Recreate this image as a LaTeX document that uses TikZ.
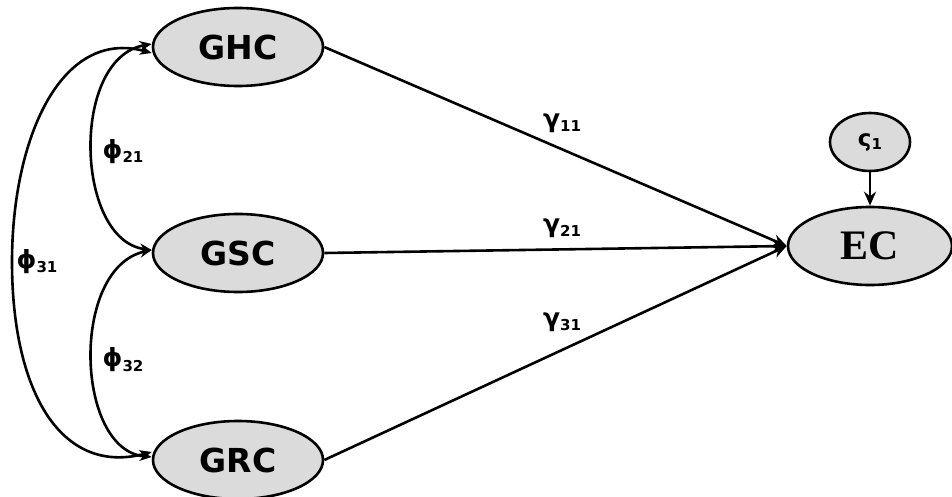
\documentclass[tikz,border=0pt]{standalone}
\usepackage{fontspec}
\setmainfont{DejaVu Sans}
\newfontfamily\ecfont{Liberation Serif}
\usetikzlibrary{arrows.meta,shapes.geometric}

\tikzset{
  latent/.style={ellipse, draw=black, line width=2.6pt, fill=black!14,
    inner sep=0pt, minimum width=170pt, minimum height=78pt,
    font=\fontsize{33}{33}\selectfont\bfseries},
  errnode/.style={ellipse, draw=black, line width=2.6pt, fill=black!14,
    inner sep=0pt, minimum width=80pt, minimum height=58pt,
    font=\fontsize{23}{23}\selectfont\bfseries},
  path/.style={line width=2.6pt, -{Stealth[length=14pt,width=12pt]}},
  cov/.style={line width=2.6pt, {Stealth[length=12pt,width=10pt]}-{Stealth[length=12pt,width=10pt]}},
  coef/.style={font=\fontsize{25}{25}\selectfont\bfseries, inner sep=1pt}
}

\newcommand{\sbs}[1]{\raisebox{-0.3ex}{\fontsize{15}{15}\selectfont\bfseries #1}}

\begin{document}
\begin{tikzpicture}[x=1pt,y=-1pt]
\useasboundingbox (0,0) rectangle (952,497);

% exogenous constructs
\node[latent] (GHC) at (238,47) {GHC};
\node[latent] (GSC) at (238,253) {GSC};
\node[latent] (GRC) at (238,460) {GRC};

% endogenous construct and its disturbance
\node[latent, minimum width=164pt, font=\fontsize{42}{42}\selectfont\bfseries\ecfont] (EC) at (870,246) {EC};
\node[errnode] (Z) at (870,142) {ς\sbs{1}};

% structural paths
\draw[path] (GHC.east) -- (EC.west);
\draw[path] (GSC.east) -- (EC.west);
\draw[path] (GRC.east) -- (EC.west);
\draw[path] (Z) -- (EC);

% covariances among the exogenous constructs
\coordinate (GHCa) at ([yshift=-6pt]GHC.west);
\coordinate (GHCb) at ([yshift=3pt]GHC.west);
\coordinate (GSCa) at ([yshift=3pt]GSC.west);
\coordinate (GRCa) at ([yshift=3pt]GRC.west);
\coordinate (GRCb) at ([yshift=8pt]GRC.west);

\draw[cov] (GHCa) .. controls (60,28) and (12,140) .. (12,262)
                  .. controls (12,390) and (60,476) .. (GRCb);
\draw[cov] (GHCb) .. controls (70,58) and (75,240) .. (GSCa);
\draw[cov] (GSCa) .. controls (70,268) and (75,450) .. (GRCa);

% coefficient labels
\node[coef] (g11) at (562,123) {γ\sbs{11}};
\node[coef] (g21) at (562,228) {γ\sbs{21}};
\node[coef] (g31) at (562,322) {γ\sbs{31}};
\node[coef] (p21) at (123,152) {ϕ\sbs{21}};
\node[coef] (p31) at (37,262) {ϕ\sbs{31}};
\node[coef] (p32) at (123,360) {ϕ\sbs{32}};
\end{tikzpicture}
\end{document}
